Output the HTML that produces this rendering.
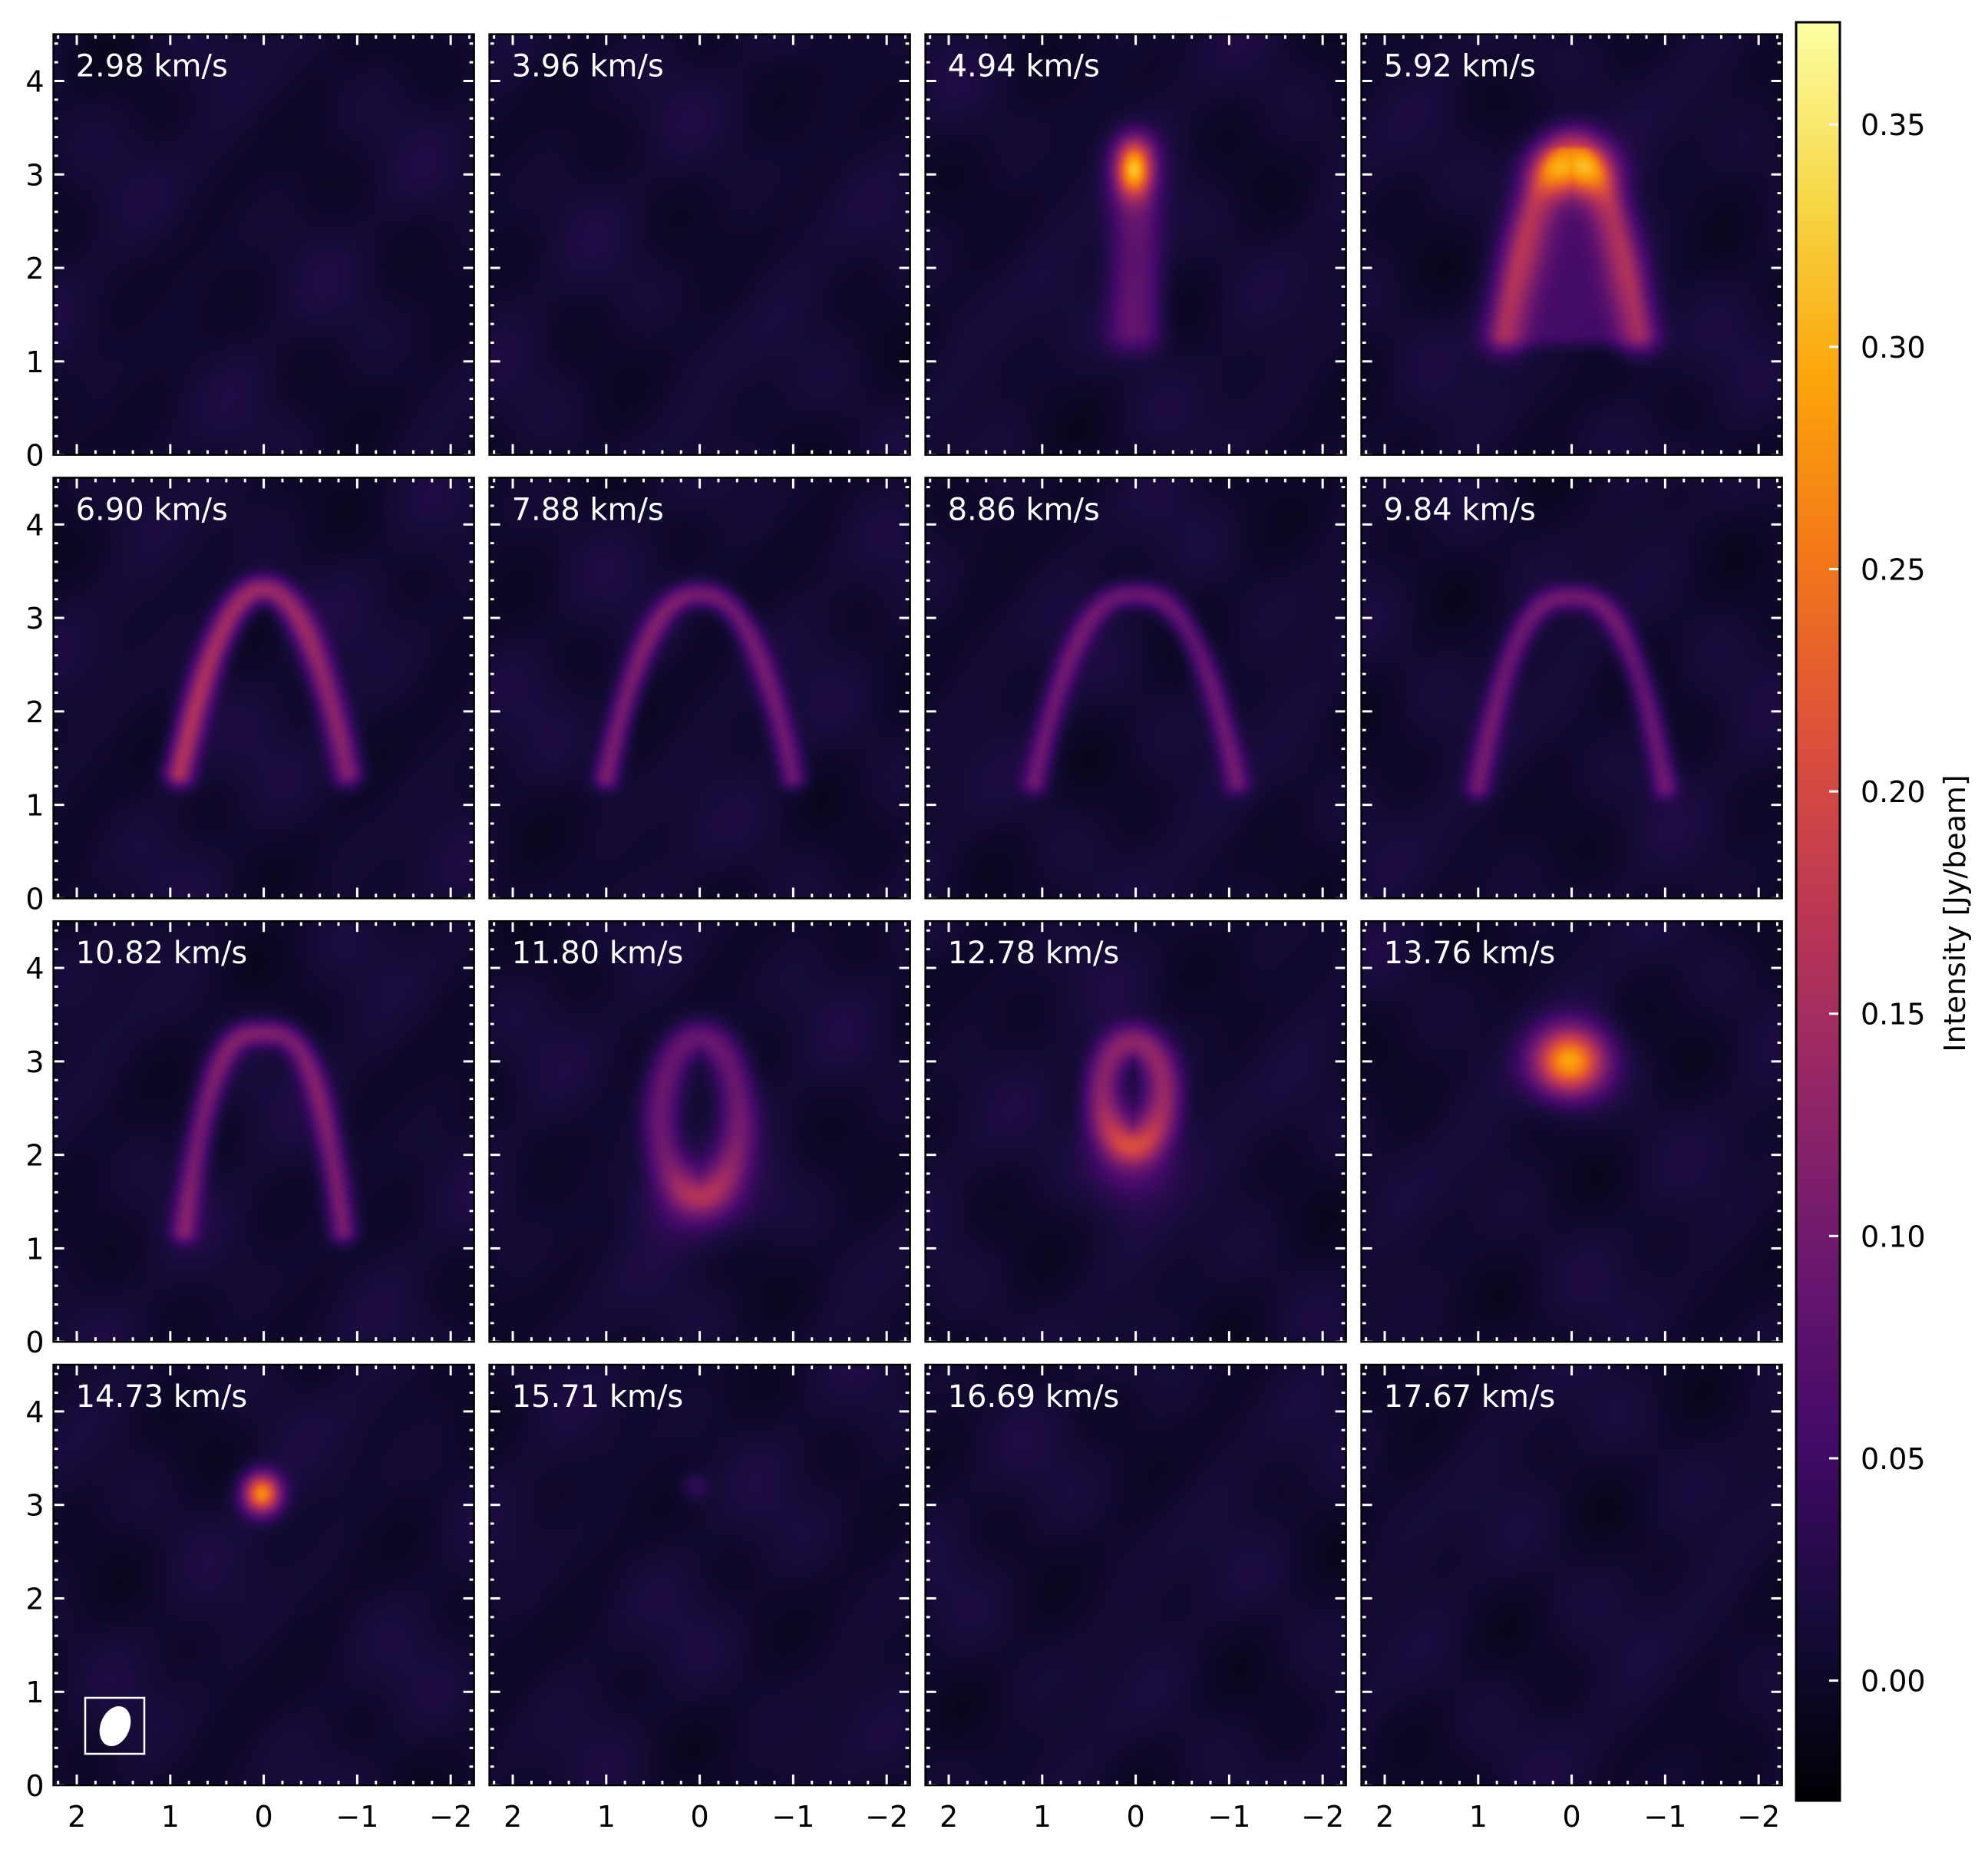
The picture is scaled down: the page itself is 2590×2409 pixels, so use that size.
<!DOCTYPE html>
<html><head><meta charset="utf-8">
<style>
html,body{margin:0;padding:0;background:#fff;}
#wrap{position:relative;width:2590px;height:2409px;overflow:hidden;background:#fff;}
#maps{position:absolute;left:0;top:0;}
#ov{position:absolute;left:0;top:0;}
text{font-family:"DejaVu Sans","Liberation Sans",sans-serif;}
</style></head>
<body>
<div id="wrap">
<canvas id="maps" width="2590" height="2409"></canvas>
<svg id="ov" width="2590" height="2409" xmlns="http://www.w3.org/2000/svg"></svg>
</div>
<script>
// ---- data ----
const velocities = ['2.98','3.96','4.94','5.92','6.90','7.88','8.86','9.84','10.82','11.80','12.78','13.76','14.73','15.71','16.69','17.67'];
const arcAmp    = [0,0,0.08,0.105,0.135,0.095,0.085,0.085,0.1,0,0,0,0,0,0,0];
const arcApexY  = [0,0,3.2,3.3,3.3,3.25,3.25,3.22,3.3,0,0,0,0,0,0,0];
const arcBottomY= [0,0,1.35,1.3,1.35,1.3,1.25,1.2,1.2,0,0,0,0,0,0,0];
const arcHalfW  = [0,0,0.04,0.72,0.9,1.0,1.08,1.0,0.85,0,0,0,0,0,0,0];
const arcShapeQ = [1,1,1,1,0.95,0.85,0.8,0.75,0.65,1,1,1,1,1,1,1];
const arcSigma  = [0.1,0.1,0.18,0.17,0.11,0.095,0.095,0.095,0.1,0.1,0.1,0.1,0.1,0.1,0.1,0.1];
const arcSkew   = [0,0,0,0,0.15,0.08,0,0,0,0,0,0,0,0,0,0];
const fillAmp   = [0,0,0,0.045,0,0,0,0,0,0,0,0,0,0,0,0];
const ringAmp   = [0,0,0,0,0,0,0,0,0,0.085,0.12,0,0,0,0,0];
const ringCx    = [0,0,0,0,0,0,0,0,0,0,0.03,0,0,0,0,0];
const ringCy    = [0,0,0,0,0,0,0,0,0,2.4,2.65,0,0,0,0,0];
const ringRx    = [0,0,0,0,0,0,0,0,0,0.42,0.33,0,0,0,0,0];
const ringRy    = [0,0,0,0,0,0,0,0,0,0.85,0.55,0,0,0,0,0];
const blobAmp   = [0,0,0.22,0.19,0,0,0,0,0,0.07,0.09,0.28,0.26,0.035,0,0];
const blobX     = [0,0,0.02,0,0,0,0,0,0,0,0.03,0.02,0.02,0.05,0,0];
const blobY     = [0,0,3.05,3.05,0,0,0,0,0,1.55,2.05,3.0,3.12,3.2,0,0];
const blobSx    = [1,1,0.13,0.28,1,1,1,1,1,0.38,0.3,0.27,0.14,0.1,1,1];
const blobSy    = [1,1,0.2,0.2,1,1,1,1,1,0.3,0.35,0.25,0.15,0.1,1,1];
const cbarTicks = ['0.00','0.05','0.10','0.15','0.20','0.25','0.30','0.35'];
const yTicks = [0,1,2,3,4];
const xTicks = [2,1,0,-1,-2];

// ---- layout ----
const colX=[69.6,637.6,1205.6,1773.6], rowY=[44.6,622.4,1200.2,1778], S=548;
const XMAX=2.25, YMAX=4.5;
const VMIN=-0.027, VMAX=0.373;
const CB={x:2340,y:29,w:57,h:2317};
function px(panel,x){return colX[panel%4]+(XMAX-x)/(2*XMAX)*S;}
function py(panel,y){return rowY[Math.floor(panel/4)]+(YMAX-y)/YMAX*S;}
function cbY(v){return CB.y+(VMAX-v)/(VMAX-VMIN)*CB.h;}
function sq(a){return a*a;}

const stops=[[0,'#000004'],[0.1,'#160b39'],[0.2,'#420a68'],[0.3,'#6a176e'],[0.4,'#932667'],[0.5,'#bc3754'],[0.6,'#dd513a'],[0.7,'#f37819'],[0.8,'#fca50a'],[0.9,'#f6d746'],[1,'#fcffa4']];
const stopRGB=stops.map(s=>[s[0],parseInt(s[1].slice(1,3),16),parseInt(s[1].slice(3,5),16),parseInt(s[1].slice(5,7),16)]);
function cmap(v){let t=(v-VMIN)/(VMAX-VMIN);t=Math.max(0,Math.min(1,t));
 for(let i=0;i<stopRGB.length-1;i++){const a=stopRGB[i],b=stopRGB[i+1];if(t<=b[0]){const f=(t-a[0])/(b[0]-a[0]);return [a[1]+(b[1]-a[1])*f,a[2]+(b[2]-a[2])*f,a[3]+(b[3]-a[3])*f];}}
 return [252,255,164];}

function texture(x,y,p){
 return 0.007+0.0045*Math.sin(2.3*x+1.7*y+p*1.3)+0.004*Math.sin(-1.9*x+3.1*y+p*2.1+1)+0.0035*Math.sin(3.7*x-2.2*y+p*0.7+2)+0.003*Math.sin(4.9*x+4.3*y+p*1.9+3);
}

function valueAt(p,x,y,arcPts,ringPts){
 let v=texture(x,y,p);
 if(arcAmp[p]>0){let best=1e9,bs=0;for(const q of arcPts){const d=sq(x-q[0])+sq(y-q[1]);if(d<best){best=d;bs=q[2];}}
  v+=arcAmp[p]*(1+arcSkew[p]*bs)*Math.exp(-best/(2*sq(arcSigma[p])));
  if(fillAmp[p]>0){const h=arcApexY[p]-arcBottomY[p];const r=(arcApexY[p]-y)/h;if(r>0&&r<1.1){const w=arcHalfW[p]*Math.sqrt(Math.min(r,1));const e=Math.max(0,Math.abs(x)-w);v+=fillAmp[p]*Math.exp(-e*e/0.02)*Math.exp(-sq(Math.max(0,r-1))/0.005);}}
 }
 if(ringAmp[p]>0){let best=1e9;for(const q of ringPts){const d=sq(x-q[0])+sq(y-q[1]);if(d<best)best=d;}
  v+=ringAmp[p]*Math.exp(-best/(2*0.14*0.14));}
 if(blobAmp[p]>0){v+=blobAmp[p]*Math.exp(-sq(x-blobX[p])/(2*sq(blobSx[p]))-sq(y-blobY[p])/(2*sq(blobSy[p])));}
 return v;
}

const cv=document.getElementById('maps');const ctx=cv.getContext('2d');
const N=137;
for(let p=0;p<16;p++){
 const arcPts=[];if(arcAmp[p]>0){for(let k=0;k<=160;k++){const s=-1+2*k/160;const x=arcHalfW[p]*Math.sign(s)*Math.pow(Math.abs(s),arcShapeQ[p]);const y=arcApexY[p]-(arcApexY[p]-arcBottomY[p])*s*s;arcPts.push([x,y,s]);}}
 const ringPts=[];if(ringAmp[p]>0){for(let k=0;k<120;k++){const a=2*Math.PI*k/120;ringPts.push([ringCx[p]+ringRx[p]*Math.cos(a),ringCy[p]+ringRy[p]*Math.sin(a)]);}}
 const off=document.createElement('canvas');off.width=N;off.height=N;const oc=off.getContext('2d');const im=oc.createImageData(N,N);
 for(let j=0;j<N;j++)for(let i=0;i<N;i++){const x=XMAX-(i+0.5)/N*2*XMAX,y=YMAX-(j+0.5)/N*YMAX;const c=cmap(valueAt(p,x,y,arcPts,ringPts));const o=(j*N+i)*4;im.data[o]=c[0];im.data[o+1]=c[1];im.data[o+2]=c[2];im.data[o+3]=255;}
 oc.putImageData(im,0,0);ctx.imageSmoothingEnabled=true;ctx.imageSmoothingQuality='high';
 ctx.drawImage(off,colX[p%4],rowY[Math.floor(p/4)],S,S);
}

// ---- overlay ----
const NS='http://www.w3.org/2000/svg';const svg=document.getElementById('ov');
function mk(tag,attrs,parent){const e=document.createElementNS(NS,tag);for(const k in attrs)e.setAttribute(k,attrs[k]);(parent||svg).appendChild(e);return e;}
function ln(x1,y1,x2,y2,parent){return mk('line',{x1:x1,y1:y1,x2:x2,y2:y2,stroke:'#fff','stroke-width':3},parent);}

for(let p=0;p<16;p++){
 const c=p%4,r=Math.floor(p/4),L=colX[c],T=rowY[r];
 const g=mk('g',{});
 
 
 for(let k=-11;k<=11;k++){const xv=k*0.2;if(Math.abs(xv)>XMAX+1e-6)continue;const major=Math.abs(xv-Math.round(xv))<1e-6;const len=major?14:6;const X=px(p,xv);ln(X,T+S,X,T+S-len,g);ln(X,T,X,T+len,g);}
 for(let k=0;k<=22;k++){const yv=k*0.2;if(yv>YMAX)continue;const major=Math.abs(yv-Math.round(yv))<1e-6;const len=major?14:6;const Y=py(p,yv);ln(L,Y,L+len,Y,g);ln(L+S,Y,L+S-len,Y,g);}
 const fr=mk('rect',{x:L,y:T,width:S,height:S,fill:'none',stroke:'#000','stroke-width':2.5},g);
 
 
 const t=mk('text',{x:L+29,y:T+55,fill:'#fff','font-size':40},g);t.textContent=velocities[p]+' km/s';
 
 
 if(c===0){for(const yv of yTicks){const tt=mk('text',{x:L-12,y:py(p,yv)+14,fill:'#000','font-size':38,'text-anchor':'end'});tt.textContent=String(yv);
  
  }}
 if(r===3){for(const xv of xTicks){const tt=mk('text',{x:px(p,xv),y:T+S+54,fill:'#000','font-size':38,'text-anchor':'middle'});tt.textContent=xv<0?'\u2212'+(-xv):String(xv);
  
  }}
}
const beamBox=mk('rect',{x:111,y:2212,width:77,height:73,fill:'none',stroke:'#fff','stroke-width':2.5});


const beam=mk('ellipse',{cx:150,cy:2249,rx:19,ry:27,fill:'#fff',transform:'rotate(22 150 2249)'});



const defs=mk('defs',{});const lg=mk('linearGradient',{id:'cbg',x1:0,y1:1,x2:0,y2:0},defs);
for(const s of stops)mk('stop',{offset:s[0],'stop-color':s[1]},lg);
const cb=mk('rect',{x:CB.x,y:CB.y,width:CB.w,height:CB.h,fill:'url(#cbg)',stroke:'#000','stroke-width':3});


for(const tl of cbarTicks){const v=parseFloat(tl);const Y=cbY(v);ln(CB.x+CB.w-14,Y,CB.x+CB.w-2,Y);
 const tt=mk('text',{x:CB.x+CB.w+27,y:Y+14,fill:'#000','font-size':38});tt.textContent=tl;
 
 }
const cbl=mk('text',{x:2560,y:1190,fill:'#000','font-size':38,'text-anchor':'middle',transform:'rotate(-90 2560 1190)'});
cbl.textContent='Intensity [Jy/beam]';


</script>
</body></html>
